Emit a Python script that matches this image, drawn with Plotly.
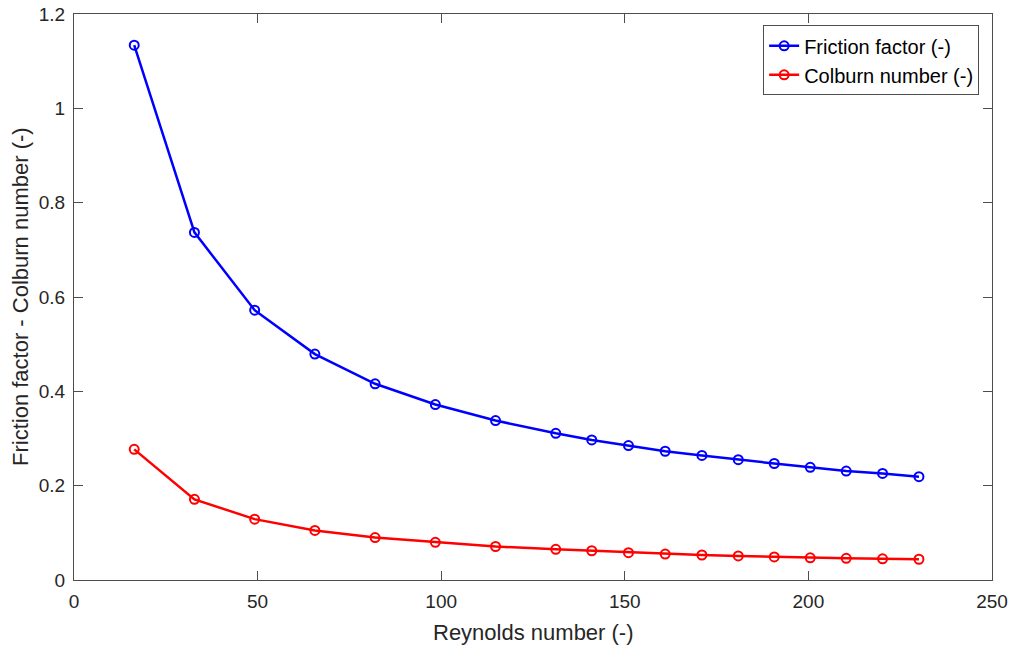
import plotly.graph_objects as go

reynolds = [16.4, 32.8, 49.2, 65.6, 82.0, 98.4, 114.8, 131.2, 141.0, 151.0, 161.0,
            171.0, 180.9, 190.7, 200.5, 210.3, 220.2, 230.1]
friction = [1.134, 0.737, 0.572, 0.479, 0.416, 0.372, 0.338, 0.311, 0.297, 0.285, 0.273,
            0.264, 0.255, 0.247, 0.239, 0.231, 0.226, 0.219]
colburn = [0.277, 0.171, 0.129, 0.105, 0.090, 0.080, 0.071, 0.065, 0.062, 0.058, 0.055,
           0.053, 0.051, 0.049, 0.047, 0.046, 0.045, 0.044]

x_ticks = [0, 50, 100, 150, 200, 250]
y_ticks = [0, 0.2, 0.4, 0.6, 0.8, 1.0, 1.2]
y_tick_labels = ["0", "0.2", "0.4", "0.6", "0.8", "1", "1.2"]

txt = "#262626"
axc = "#4d4d4d"
font = "Liberation Sans, Arial, sans-serif"

fig = go.Figure()
fig.add_trace(go.Scatter(
    x=reynolds, y=friction, mode="lines+markers", name="Friction factor (-)",
    line=dict(color="#0000ff", width=2.5),
    marker=dict(symbol="circle-open", size=9, color="#0000ff", line=dict(width=2))))
fig.add_trace(go.Scatter(
    x=reynolds, y=colburn, mode="lines+markers", name="Colburn number (-)",
    line=dict(color="#ff0000", width=2.5),
    marker=dict(symbol="circle-open", size=9, color="#ff0000", line=dict(width=2))))

axis_common = dict(showgrid=False, zeroline=False, showline=True, linecolor=axc, linewidth=1,
                   ticks="inside", ticklen=9, tickcolor=axc, mirror="ticks", automargin=False,
                   ticklabeloverflow="allow", ticklabelstandoff=4,
                   tickfont=dict(family=font, size=19, color=txt))

fig.update_xaxes(range=[0, 250], tickvals=x_ticks, **axis_common)
fig.update_yaxes(range=[0, 1.2], tickvals=y_ticks, ticktext=y_tick_labels, **axis_common)

fig.add_annotation(text="Reynolds number (-)", xref="paper", yref="paper",
                   x=0.5, y=0, yanchor="middle", xanchor="center", yshift=-52,
                   showarrow=False, font=dict(family=font, size=22, color=txt))
fig.add_annotation(text="Friction factor - Colburn number (-)", xref="paper", yref="paper",
                   x=0, xshift=-54, y=0.5, textangle=-90, xanchor="center", yanchor="middle",
                   showarrow=False, font=dict(family=font, size=22, color=txt))

fig.update_layout(
    width=1011, height=646,
    margin=dict(l=74, r=19, t=13.5, b=66, autoexpand=False),
    paper_bgcolor="white", plot_bgcolor="white",
    font=dict(family=font, color=txt),
    legend=dict(x=0.986, y=0.98, xanchor="right", yanchor="top",
                bgcolor="white", bordercolor="#4d4d4d", borderwidth=1,
                font=dict(family=font, size=20, color="black"),
                itemwidth=30, tracegroupgap=0),
    showlegend=True,
)

fig.write_html("out.html", config={"displayModeBar": False},
               post_script="document.body.style.margin='0';")
